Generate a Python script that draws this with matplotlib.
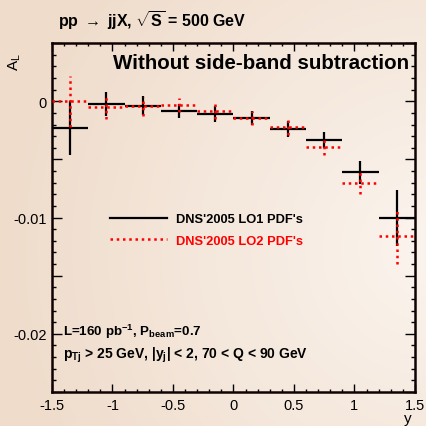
import numpy as np
import matplotlib
matplotlib.use("Agg")
import matplotlib.pyplot as plt
from matplotlib.ticker import MultipleLocator, FuncFormatter

plt.rcParams['font.family'] = ['Liberation Sans', 'DejaVu Sans']
plt.rcParams['mathtext.fontset'] = 'custom'
plt.rcParams['mathtext.rm'] = 'Liberation Sans:bold'
plt.rcParams['mathtext.bf'] = 'Liberation Sans:bold'
plt.rcParams['mathtext.it'] = 'Liberation Sans:bold'

# data
y_centers = [-1.35, -1.05, -0.75, -0.45, -0.15, 0.15, 0.45, 0.75, 1.05, 1.35]
bin_half = 0.15
lo1_vals = [-0.0023, -0.00023, -0.00037, -0.0008, -0.00111, -0.00143, -0.00237, -0.00332, -0.00612, -0.01003]
lo1_errs = [0.0023, 0.0010, 0.0008, 0.0006, 0.0007, 0.0006, 0.0007, 0.0007, 0.0010, 0.0024]
lo2_vals = [0.0, -0.00049, -0.00043, -0.00032, -0.00086, -0.0014, -0.00217, -0.00389, -0.0070, -0.0116]
lo2_errs = [0.0022, 0.0010, 0.0008, 0.0006, 0.0007, 0.0006, 0.0007, 0.0007, 0.0010, 0.0024]

fig = plt.figure(figsize=(4.26, 4.27), dpi=100)

# background gradient
bg = fig.add_axes([0, 0, 1, 1], zorder=-10)
H, W = 427, 426
yy, xx = np.mgrid[0:H, 0:W]
r = np.sqrt(((xx - 430) / 430.0) ** 2 + ((yy - 250) / 430.0) ** 2)
t = np.clip(r / 1.0, 0, 1)
c0 = np.array([251, 244, 238]) / 255.0
c1 = np.array([239, 220, 203]) / 255.0
img = c0[None, None, :] * (1 - t[..., None]) + c1[None, None, :] * t[..., None]
bg.imshow(img, aspect='auto', extent=[0, 1, 0, 1])
bg.axis('off')

ax = fig.add_axes([0.122, 0.0796, 0.852, 0.817])
ax.patch.set_alpha(0)

eb1 = ax.errorbar(y_centers, lo1_vals, yerr=lo1_errs, xerr=bin_half, fmt='none',
                  ecolor='black', elinewidth=1.6, capsize=0, zorder=3)
eb2 = ax.errorbar(y_centers, lo2_vals, yerr=lo2_errs, xerr=bin_half, fmt='none',
                  ecolor='red', elinewidth=1.8, capsize=0, zorder=4)
for c in eb2[2]:
    c.set_linestyle((0, (1, 1.5)))

ax.set_xlim(-1.5, 1.5)
ax.set_ylim(-0.025, 0.005)

ax.xaxis.set_major_locator(MultipleLocator(0.5))
ax.xaxis.set_minor_locator(MultipleLocator(0.1))
ax.yaxis.set_major_locator(MultipleLocator(0.005))
ax.yaxis.set_minor_locator(MultipleLocator(0.001))

def xfmt(v, p):
    if abs(v) < 1e-9:
        return '0'
    return ('%g' % v)

def yfmt(v, p):
    k = round(v / 0.005)
    if k % 2 != 0:
        return ''
    if k == 0:
        return '0'
    return '%g' % v

ax.xaxis.set_major_formatter(FuncFormatter(xfmt))
ax.yaxis.set_major_formatter(FuncFormatter(yfmt))

ax.tick_params(which='both', direction='in', top=True, right=True, labelsize=10.5, width=1.0, color='black')
ax.tick_params(axis='x', which='major', length=6, pad=4)
ax.tick_params(axis='x', which='minor', length=2.5)
ax.tick_params(axis='y', which='major', length=7, pad=4)
ax.tick_params(axis='y', which='minor', length=3)
for s in ax.spines.values():
    s.set_linewidth(1.8)
    s.set_color('#100202')

# legend
h1 = ax.plot([], [], color='black', lw=1.6)[0]
h2 = ax.plot([], [], color='red', lw=1.8, ls=(0, (1, 1.5)))[0]
leg = ax.legend([h1, h2], ["DNS'2005 LO1 PDF's", "DNS'2005 LO2 PDF's"],
                loc='upper left', bbox_to_anchor=(0.147, 0.528), frameon=False,
                prop={'weight': 'bold', 'size': 9.3}, handlelength=4.4, handletextpad=0.65,
                labelspacing=0.75, borderaxespad=0)
leg.get_texts()[0].set_color('black')
leg.get_texts()[1].set_color('red')

ax.text(0.985, 0.972, "Without side-band subtraction", transform=ax.transAxes,
        ha='right', va='top', fontsize=14.8, fontweight='bold')
ax.text(0.03, 0.175, r"L=160 pb$^{\mathregular{-1}}$, P$_{\mathregular{beam}}$=0.7", transform=ax.transAxes,
        ha='left', va='center', fontsize=9.6, fontweight='bold')
ax.text(0.03, 0.107, r"p$_{\mathregular{Tj}}$ > 25 GeV, |y$_{\mathregular{j}}$| < 2, 70 < Q < 90 GeV",
        transform=ax.transAxes, ha='left', va='center', fontsize=10, fontweight='bold')

fig.text(0.137, 0.953, r"pp$\;\rightarrow\;$jjX, $\sqrt{\mathregular{S}}$ = 500 GeV", ha='left', va='center',
         fontsize=11.5, fontweight='bold')
fig.text(0.035, 0.855, r"A$_{\mathregular{L}}$", rotation=90, ha='center', va='center', fontsize=11)
fig.text(0.958, 0.018, "y", ha='center', va='center', fontsize=11)

fig.savefig('out.png', dpi=100)
